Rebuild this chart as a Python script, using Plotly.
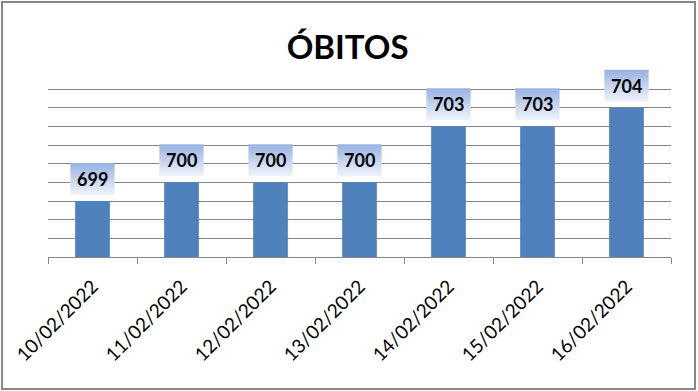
import plotly.graph_objects as go

dates = ["10/02/2022", "11/02/2022", "12/02/2022", "13/02/2022",
         "14/02/2022", "15/02/2022", "16/02/2022"]
obitos = [699, 700, 700, 700, 703, 703, 704]
title_text = "ÓBITOS"
grid_values = list(range(696, 706))

bar_color = "#4F81BD"
grid_color = "#868686"
font_family = "Lato, 'Open Sans', sans-serif"

fig = go.Figure()
fig.add_trace(go.Bar(x=dates, y=obitos, marker=dict(color=bar_color, line=dict(width=0)),
                     width=0.39, hoverinfo="skip"))

# gradient label boxes
top_rgb = (0x9A, 0xB4, 0xE2)
bot_rgb = (0xEE, 0xF2, 0xFA)
n = 16
shapes = []
for i, v in enumerate(obitos):
    for k in range(n):
        t = k / (n - 1)
        c = tuple(round(bot_rgb[j] + (top_rgb[j] - bot_rgb[j]) * t) for j in range(3))
        shapes.append(dict(type="rect", xref="x", yref="y",
                           xsizemode="pixel", ysizemode="pixel",
                           xanchor=i, yanchor=v,
                           x0=-22, x1=22, y0=6 + 2 * k, y1=6 + 2 * k + 3 if k < n - 1 else 38,
                           fillcolor="rgb(%d,%d,%d)" % c, line=dict(width=0),
                           layer="above"))
# outer border
shapes.append(dict(type="rect", xref="paper", yref="paper",
                   x0=-0.0738, x1=1.0385, y0=-0.6, y1=1.2,
                   line=dict(color="#878787", width=2), fillcolor="rgba(0,0,0,0)"))

annotations = []
for i, v in enumerate(obitos):
    annotations.append(dict(x=i, y=v, xref="x", yref="y", text="<b>%d</b>" % v,
                            showarrow=False, yshift=22,
                            font=dict(family=font_family, size=18, color="#000000")))

# plot area: bottom 257, 18.67 px per unit, top at range 706.5
unit = 168 / 9
top_px = 257 - unit * 10.5
fig.update_layout(
    width=698, height=391,
    margin=dict(l=48, r=27, t=top_px, b=134),
    paper_bgcolor="white", plot_bgcolor="white",
    showlegend=False,
    shapes=shapes,
    annotations=annotations,
    title=dict(text="<b>%s</b>" % title_text, x=0.498, xanchor="center",
               y=1 - 47 / 391, yanchor="middle", yref="container",
               font=dict(family=font_family, size=33, color="#000000")),
)
# recompute border in paper coords
h = 391 - top_px - 134
fig.layout.shapes[-1].update(y0=(257 - 389) / h, y1=(257 - 2) / h)

fig.update_xaxes(type="category", showline=True, linecolor=grid_color, linewidth=1,
                 ticks="outside", ticklen=6, tickcolor=grid_color, tickson="boundaries",
                 tickangle=-45, showgrid=False, ticklabelstandoff=10,
                 tickfont=dict(family=font_family, size=19, color="#000000"))
fig.update_yaxes(range=[696, 706.5], tickvals=grid_values, showgrid=True, gridcolor=grid_color,
                 gridwidth=1, showticklabels=False, zeroline=False, showline=False,
                 ticks="")

fig.write_html("out.html")
